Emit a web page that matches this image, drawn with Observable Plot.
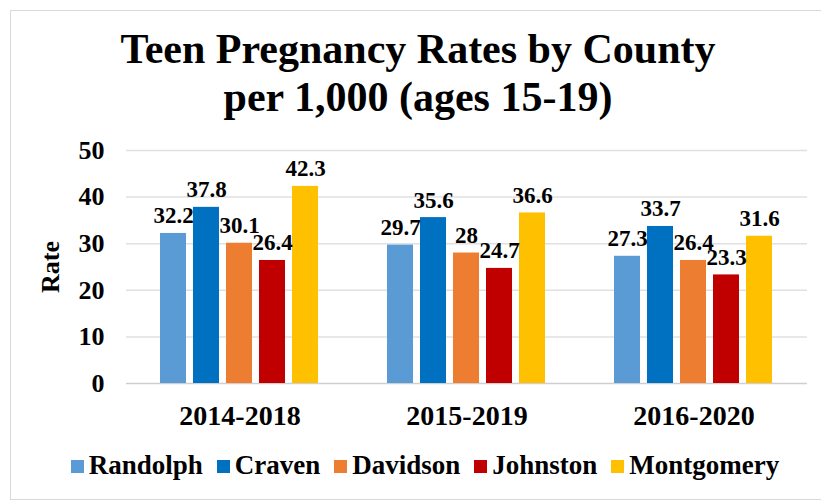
<!DOCTYPE html>
<html>
<head>
<meta charset="utf-8">
<script src="https://cdn.jsdelivr.net/npm/d3@7"></script>
<script src="https://cdn.jsdelivr.net/npm/@observablehq/plot@0.6"></script>
<style>
  html, body { margin: 0; padding: 0; background: #fff; }
  #page { position: relative; width: 821px; height: 504px; overflow: hidden; font-family: "Liberation Serif", "Times New Roman", serif; color: #000; }
  #frame { position: absolute; left: 10px; top: 10px; width: 840px; height: 490px; border: 1.5px solid #d9d9d9; box-sizing: border-box; }
  #title { position: absolute; left: 0; top: 25px; width: 836px; text-align: center; font-size: 42px; line-height: 48px; font-weight: bold; }
  #chart { position: absolute; left: 0; top: 130px; }
  #legend { position: absolute; left: 0; top: 450px; width: 850px; display: flex; justify-content: center; align-items: center; font-size: 27px; line-height: 30px; font-weight: bold; }
  .item { display: flex; align-items: center; margin: 0 7px; }
  .sw { width: 13px; height: 13px; margin-right: 5px; margin-top: 3px; }
</style>
</head>
<body>
<div id="page">
  <div id="frame"></div>
  <div id="title">Teen Pregnancy Rates by County<br>per 1,000 (ages 15-19)</div>
  <div id="chart"></div>
  <div id="legend"></div>
</div>
<script>
const periods = ["2014-2018", "2015-2019", "2016-2020"];
const counties = ["Randolph", "Craven", "Davidson", "Johnston", "Montgomery"];
const colors = ["#5B9BD5", "#0070C0", "#ED7D31", "#C00000", "#FFC000"];
const randolph = [32.2, 29.7, 27.3];
const craven = [37.8, 35.6, 33.7];
const davidson = [30.1, 28, 26.4];
const johnston = [26.4, 24.7, 23.3];
const montgomery = [42.3, 36.6, 31.6];
const yTicks = [0, 10, 20, 30, 40, 50];

const series = [randolph, craven, davidson, johnston, montgomery];
const data = [];
periods.forEach((p, i) => {
  counties.forEach((c, j) => {
    data.push({period: p, county: c, value: series[j][i]});
  });
});

const chart = Plot.plot({
  width: 821,
  height: 330,
  marginLeft: 125,
  marginRight: 13,
  marginTop: 20,
  marginBottom: 77,
  style: {fontFamily: "'Liberation Serif', 'Times New Roman', serif", color: "#000", background: "transparent"},
  fx: {domain: periods, padding: 0, label: null},
  x: {domain: counties, paddingInner: 0.2, paddingOuter: 0.95, axis: null},
  y: {domain: [0, 50], label: null},
  color: {domain: counties, range: colors},
  marks: [
    Plot.ruleY(yTicks, {stroke: d => d === 0 ? "#cfcfcf" : "#e0e0e0", strokeWidth: 1.5}),
    Plot.barY(data, {fx: "period", x: "county", y: "value", fill: "county"}),
    Plot.text(data, {fx: "period", x: "county", y: "value", text: d => String(d.value), dy: -10, lineAnchor: "bottom", fontSize: 23, fontWeight: "bold", fill: "#000"}),
    Plot.axisY({ticks: yTicks, tickSize: 0, tickPadding: 22, fontSize: 26, fontWeight: "bold", label: "Rate", labelArrow: "none", labelAnchor: "center", labelOffset: 86}),
    Plot.axisFx({anchor: "bottom", tickSize: 0, tickPadding: 22, fontSize: 28, fontWeight: "bold", label: null})
  ]
});
chart.querySelectorAll("text").forEach(t => {
  if (/Rate/.test(t.textContent)) {
    t.textContent = "Rate";
    t.style.fontSize = "26px";
    t.style.fontWeight = "bold";
  }
});
document.getElementById("chart").appendChild(chart);

const legend = document.getElementById("legend");
counties.forEach((c, i) => {
  const item = document.createElement("div");
  item.className = "item";
  const sw = document.createElement("span");
  sw.className = "sw";
  sw.style.background = colors[i];
  const label = document.createElement("span");
  label.textContent = c;
  item.appendChild(sw);
  item.appendChild(label);
  legend.appendChild(item);
});
</script>
</body>
</html>
